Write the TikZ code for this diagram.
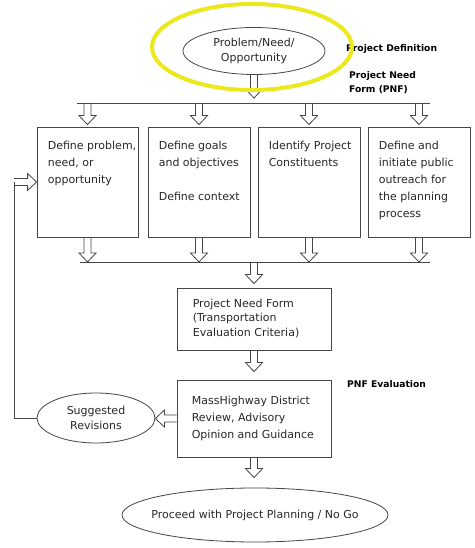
\documentclass[tikz,border=0pt]{standalone}
\usepackage{fontspec}
\setmainfont{DejaVu Sans}
\usetikzlibrary{calc,shapes.geometric}
\definecolor{lc}{RGB}{70,70,70}
\definecolor{tc}{RGB}{40,40,40}
\definecolor{hl}{RGB}{236,232,30}
\tikzset{
  line/.style={draw=lc, line width=0.8pt},
  hollowarr/.style={draw=lc, line width=0.8pt, line join=miter},
  box/.style={draw=lc, line width=0.8pt, rectangle, inner sep=0pt},
  ell/.style={draw=lc, line width=0.8pt, ellipse, inner sep=0pt, align=center, text=tc,
              font=\fontsize{11}{15}\selectfont},
  boxtext/.style={anchor=north west, inner sep=0pt, align=left, text=tc,
              font=\fontsize{11}{17}\selectfont},
  lbl/.style={anchor=west, inner sep=0pt, align=left, text=black,
              font=\fontsize{9.2}{14}\selectfont\bfseries},
}
% hollow block arrows: start point #1, tip taken from point #2
\newcommand\arrdown[2]{\draw[hollowarr] let \p1=(#1), \p2=(#2) in
  (\x1-3.5pt,\y1) -- (\x1-3.5pt,\y2+9pt) -- (\x1-8.5pt,\y2+9pt) -- (\x1,\y2)
  -- (\x1+8.5pt,\y2+9pt) -- (\x1+3.5pt,\y2+9pt) -- (\x1+3.5pt,\y1);}
\newcommand\arrright[2]{\draw[hollowarr] let \p1=(#1), \p2=(#2) in
  (\x1,\y1+3.5pt) -- (\x2-9pt,\y1+3.5pt) -- (\x2-9pt,\y1+8.5pt) -- (\x2,\y1)
  -- (\x2-9pt,\y1-8.5pt) -- (\x2-9pt,\y1-3.5pt) -- (\x1,\y1-3.5pt);}
\newcommand\arrleft[2]{\draw[hollowarr] let \p1=(#1), \p2=(#2) in
  (\x1,\y1+3.5pt) -- (\x2+9pt,\y1+3.5pt) -- (\x2+9pt,\y1+8.5pt) -- (\x2,\y1)
  -- (\x2+9pt,\y1-8.5pt) -- (\x2+9pt,\y1-3.5pt) -- (\x1,\y1-3.5pt);}
\begin{document}
\begin{tikzpicture}[x=1pt,y=1pt]
\useasboundingbox[fill=white] (0,0) rectangle (474,548);

% top ellipse
\node[ell, minimum width=142pt, minimum height=47pt] (top) at (254,497) {Problem/Need/\\Opportunity};

% side labels
\node[lbl] (pdef) at (346,499) {Project Definition};
\node[lbl, anchor=north west] (pnf) at (349,477) {Project Need\\Form (PNF)};
\node[lbl] (pnfe) at (347,164) {PNF Evaluation};

% distribution lines
\coordinate (topL) at (77,445);
\coordinate (topR) at (430,445);
\coordinate (botL) at (80,286);
\coordinate (botR) at (430,286);
\draw[line] (topL) -- (topR);
\draw[line] (botL) -- (botR);

% four boxes
\node[box, minimum width=101pt, minimum height=110pt] (b1) at (87.5,366) {};
\node[box, minimum width=102pt, minimum height=110pt] (b2) at (199,366) {};
\node[box, minimum width=102pt, minimum height=110pt] (b3) at (309,366) {};
\node[box, minimum width=102pt, minimum height=110pt] (b4) at (419,366) {};

\node[boxtext] (t1) at ($(b1.north west)+(11,-14)$) {Define problem,\\need, or\\opportunity};
\node[boxtext] (t2) at ($(b2.north west)+(11,-14)$) {Define goals\\and objectives\\[17pt]Define context};
\node[boxtext] (t3) at ($(b3.north west)+(11,-14)$) {Identify Project\\Constituents};
\node[boxtext] (t4) at ($(b4.north west)+(11,-14)$) {Define and\\initiate public\\outreach for\\the planning\\process};

% PNF box
\node[box, minimum width=154pt, minimum height=62pt] (pnfbox) at (254,229) {};
\node[boxtext, font=\fontsize{11}{14.7}\selectfont] (tp) at ($(pnfbox.north west)+(16,-11)$) {Project Need Form\\(Transportation\\Evaluation Criteria)};

% MassHighway box
\node[box, minimum width=154pt, minimum height=77pt] (mh) at (254,129.5) {};
\node[boxtext] (tm) at ($(mh.north west)+(15,-16)$) {MassHighway District\\Review, Advisory\\Opinion and Guidance};

% ellipses
\node[ell, minimum width=118pt, minimum height=50pt] (sr) at (96,130) {Suggested\\Revisions};
\node[ell, minimum width=266pt, minimum height=54pt, inner xsep=-12pt] (go) at (255,33) {Proceed with Project Planning / No Go};

% arrows
\arrdown{top.south}{$(top.south |- topL)+(0,5)$}
\foreach \b in {b1,b2,b3,b4}{
  \arrdown{\b.north |- topL}{$(\b.north)+(0,2)$}
  \arrdown{\b.south}{\b.south |- botL}
}
\arrdown{pnfbox.north |- botL}{$(pnfbox.north)+(0,4)$}
\arrdown{pnfbox.south}{$(mh.north)+(0,8)$}
\arrdown{mh.south}{$(go.north)+(0,10)$}
\arrleft{$(mh.west)+(0,0)$}{sr.east}

% feedback loop
\coordinate (fbB) at (14,130);
\coordinate (fbT) at (14,366);
\draw[line] (sr.west) -- (fbB) -- (fbT);
\arrright{fbT}{b1.west}

% highlight
\node[draw=hl, line width=4pt, ellipse, minimum width=200pt, minimum height=86pt, inner sep=0pt] (hlring) at (252,501) {};
\end{tikzpicture}
\end{document}
